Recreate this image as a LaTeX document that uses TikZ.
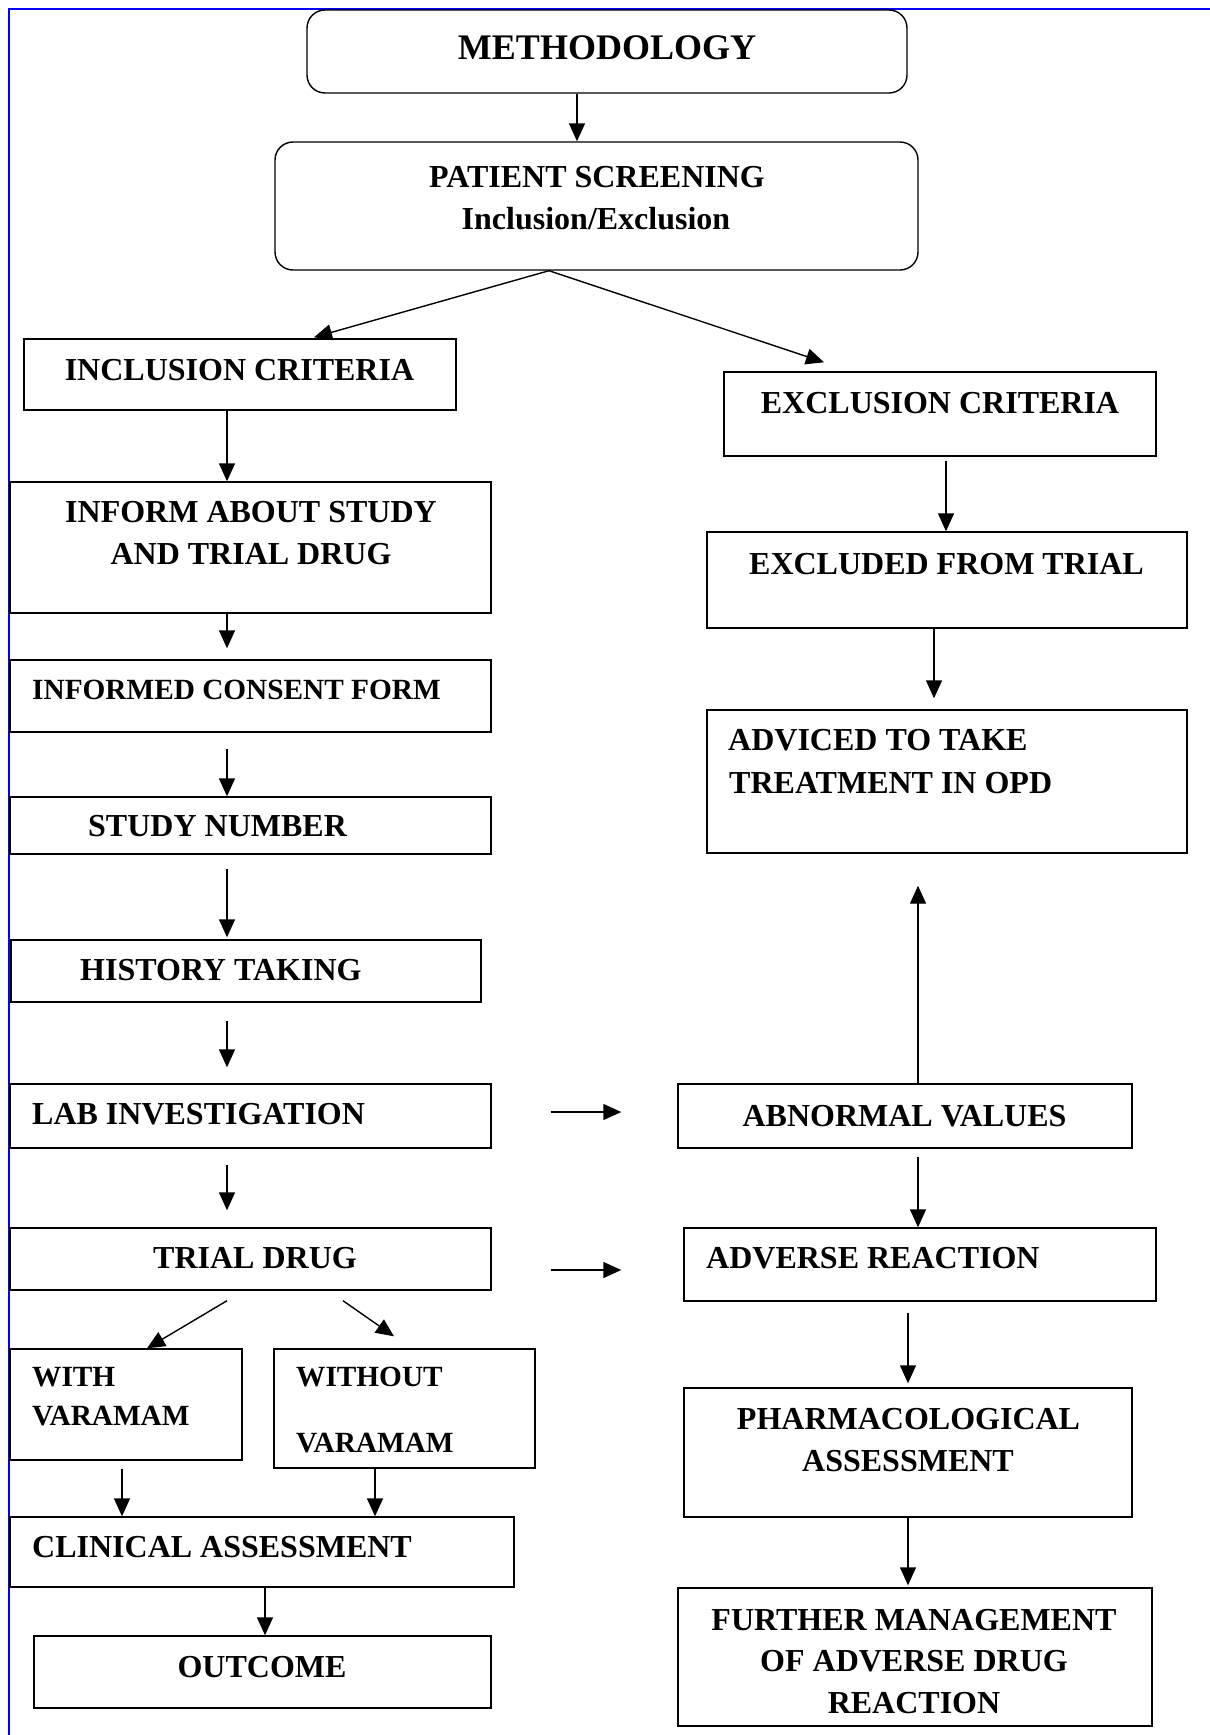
\documentclass[tikz,border=0pt]{standalone}
\usepackage{fontspec}
\setmainfont{Liberation Serif}
\usetikzlibrary{arrows.meta,calc}
\begin{document}
\begin{tikzpicture}[x=1pt,y=-1pt,
  box/.style={draw, line width=1.4pt, inner sep=0pt, rectangle},
  rbox/.style={box, rounded corners=18pt},
  txt/.style={font=\bfseries\fontsize{32}{40}\selectfont, inner sep=0pt, anchor=base},
  ltxt/.style={txt, anchor=base west},
  small/.style={font=\bfseries\fontsize{29.3}{36}\selectfont},
  arr/.style={line width=1.4pt, -{Triangle[length=18pt,width=16pt]}}]
\useasboundingbox (0,0) rectangle (1210,1735);
% page border
\coordinate (bTR) at (1210,9);
\coordinate (bTL) at (9,9);
\coordinate (bBL) at (9,1735);
\draw[blue, line width=1.5pt] (bTR) -- (bTL) -- (bBL);

% boxes
\node[rbox, minimum width=600pt, minimum height=83pt] (meth) at (607,51.5) {};
\node[rbox, minimum width=643pt, minimum height=128pt] (screen) at (596.5,206) {};
\node[box, minimum width=432pt, minimum height=71pt] (incl) at (240,374.5) {};
\node[box, minimum width=481pt, minimum height=131pt] (inform) at (250.5,547.5) {};
\node[box, minimum width=481pt, minimum height=72pt] (consent) at (250.5,696) {};
\node[box, minimum width=481pt, minimum height=57pt] (study) at (250.5,825.5) {};
\node[box, minimum width=470pt, minimum height=62pt] (history) at (246,971) {};
\node[box, minimum width=481pt, minimum height=64pt] (lab) at (250.5,1116) {};
\node[box, minimum width=481pt, minimum height=62pt] (trial) at (250.5,1259) {};
\node[box, minimum width=232pt, minimum height=111pt] (with) at (126,1404.5) {};
\node[box, minimum width=261pt, minimum height=119pt] (without) at (404.5,1408.5) {};
\node[box, minimum width=504pt, minimum height=70pt] (clinical) at (262,1552) {};
\node[box, minimum width=457pt, minimum height=72pt] (outcome) at (262.5,1672) {};
\node[box, minimum width=432pt, minimum height=84pt] (excl) at (940,414) {};
\node[box, minimum width=480pt, minimum height=96pt] (excluded) at (947,580) {};
\node[box, minimum width=480pt, minimum height=143pt] (adviced) at (947,781.5) {};
\node[box, minimum width=454pt, minimum height=64pt] (abnormal) at (905,1116) {};
\node[box, minimum width=472pt, minimum height=73pt] (adverse) at (920,1264.5) {};
\node[box, minimum width=448pt, minimum height=129pt] (pharma) at (908,1452.5) {};
\node[box, minimum width=474pt, minimum height=138pt] (further) at (915,1657) {};

% texts
\node[txt, font=\bfseries\fontsize{36}{44}\selectfont] (tmeth) at (607,59) {METHODOLOGY};
\node[txt] (tscreen1) at (597,187) {PATIENT SCREENING};
\node[txt] (tscreen2) at (596,229) {Inclusion/Exclusion};
\node[txt] (tincl) at (239.5,380) {INCLUSION CRITERIA};
\node[txt] (tinform1) at (251,522) {INFORM ABOUT STUDY};
\node[txt] (tinform2) at (251,564) {AND TRIAL DRUG};
\node[ltxt, small] (tconsent) at (32,699) {INFORMED CONSENT FORM};
\node[ltxt] (tstudy) at (88,836) {STUDY NUMBER};
\node[ltxt] (thistory) at (80,980) {HISTORY TAKING};
\node[ltxt] (tlab) at (32,1124) {LAB INVESTIGATION};
\node[txt] (ttrial) at (255,1268) {TRIAL DRUG};
\node[ltxt, small] (twith1) at (32,1386) {WITH};
\node[ltxt, small] (twith2) at (32,1425) {VARAMAM};
\node[ltxt, small] (twithout1) at (296,1386) {WITHOUT};
\node[ltxt, small] (twithout2) at (296,1452) {VARAMAM};
\node[ltxt] (tclinical) at (32,1557) {CLINICAL ASSESSMENT};
\node[txt] (toutcome) at (262,1677) {OUTCOME};
\node[txt] (texcl) at (940,413) {EXCLUSION CRITERIA};
\node[txt] (texcluded) at (946.5,574) {EXCLUDED FROM TRIAL};
\node[ltxt] (tadviced1) at (728,750) {ADVICED TO TAKE};
\node[ltxt] (tadviced2) at (729,793) {TREATMENT IN OPD};
\node[txt] (tabnormal) at (904.5,1126) {ABNORMAL VALUES};
\node[ltxt] (tadverse) at (706,1268) {ADVERSE REACTION};
\node[txt] (tpharma1) at (908.5,1429) {PHARMACOLOGICAL};
\node[txt] (tpharma2) at (908,1471.5) {ASSESSMENT};
\node[txt] (tfurther1) at (914,1630) {FURTHER MANAGEMENT};
\node[txt] (tfurther2) at (914,1671) {OF ADVERSE DRUG};
\node[txt] (tfurther3) at (914,1713) {REACTION};

% connectors
\draw[arr] ($(meth.south)+(-30,0)$) -- ($(screen.north)+(-19.5,0)$);
\draw[arr] ($(screen.south)+(-47.5,0)$) -- ($(incl.north)+(74,-1)$);
\draw[arr] ($(screen.south)+(-47.5,0)$) -- ($(excl.north)+(-116,-9)$);
\draw[arr] ($(incl.south)+(-13,0)$) -- ($(inform.north)+(-23.5,0)$);
\draw[arr] ($(inform.south)+(-23.5,0)$) -- ($(consent.north)+(-23.5,-11)$);
\draw[arr] ($(consent.south)+(-23.5,16)$) -- ($(study.north)+(-23.5,0)$);
\draw[arr] ($(study.south)+(-23.5,14)$) -- ($(history.north)+(-19,-2)$);
\draw[arr] ($(history.south)+(-19,18)$) -- ($(lab.north)+(-23.5,-16)$);
\draw[arr] ($(lab.south)+(-23.5,16)$) -- ($(trial.north)+(-23.5,-17)$);
\draw[arr] ($(trial.south)+(-23.5,10)$) -- ($(with.north)+(21,0)$);
\draw[arr] ($(trial.south)+(92.5,10)$) -- ($(without.north)+(-10.5,-12)$);
\draw[arr] ($(with.south)+(-4,8)$) -- ($(clinical.north)+(-140,0)$);
\draw[arr] ($(without.south)+(-29.5,0)$) -- ($(clinical.north)+(113,0)$);
\draw[arr] ($(clinical.south)+(3,0)$) -- ($(outcome.north)+(2.5,0)$);
\draw[arr] ($(lab.east)+(59,-4)$) -- ($(abnormal.west)+(-56,-4)$);
\draw[arr] ($(trial.east)+(59,11)$) -- ($(adverse.west)+(-62,5.5)$);
\draw[arr] ($(excl.south)+(6,4)$) -- ($(excluded.north)+(-1,0)$);
\draw[arr] ($(excluded.south)+(-13,0)$) -- ($(adviced.north)+(-13,-11)$);
\draw[arr] ($(abnormal.north)+(13,0)$) -- ($(adviced.south)+(-29,32)$);
\draw[arr] ($(abnormal.south)+(13,8)$) -- ($(adverse.north)+(-2,0)$);
\draw[arr] ($(adverse.south)+(-12,11)$) -- ($(pharma.north)+(0,-4)$);
\draw[arr] (pharma.south) -- ($(further.north)+(-7,-2)$);
\end{tikzpicture}
\end{document}
